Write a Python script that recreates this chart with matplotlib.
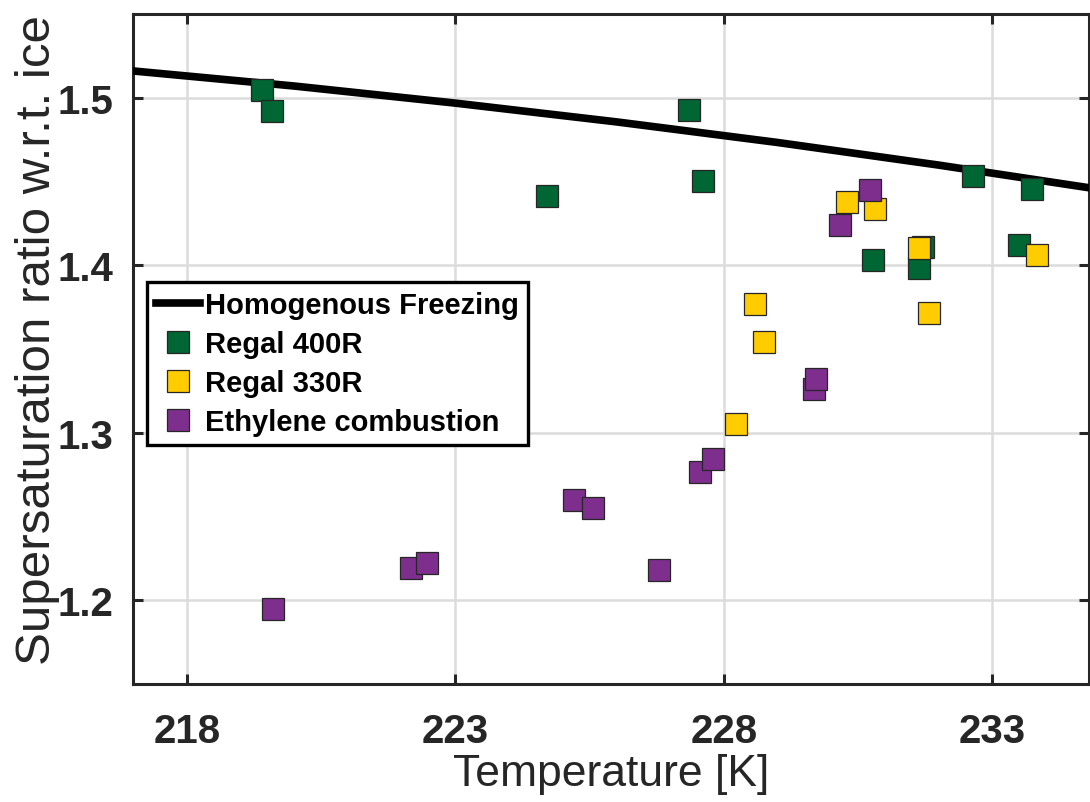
import matplotlib
matplotlib.use("Agg")
import matplotlib.pyplot as plt

# Homogeneous freezing line
hom_T = [217, 220, 223, 226, 229, 232, 235]
hom_S = [1.516, 1.5070, 1.4968, 1.4856, 1.4733, 1.4598, 1.4453]

# Regal 400R
r400_T = [219.41, 219.58, 224.70, 227.36, 227.61, 230.78, 231.70, 231.63, 232.64, 233.49, 233.73]
r400_S = [1.5048, 1.4918, 1.4416, 1.4925, 1.4505, 1.4034, 1.4107, 1.3983, 1.4530, 1.4123, 1.4453]

# Regal 330R
r330_T = [228.23, 228.58, 228.74, 230.30, 230.81, 231.64, 231.82, 233.84]
r330_S = [1.3055, 1.3769, 1.3542, 1.4376, 1.4337, 1.4103, 1.3715, 1.4061]

# Ethylene combustion
eth_T = [219.61, 222.18, 222.47, 225.22, 225.57, 226.79, 227.55, 227.79, 229.68, 229.71, 230.16, 230.73]
eth_S = [1.1946, 1.2194, 1.2225, 1.2597, 1.2552, 1.2179, 1.2764, 1.2845, 1.3264, 1.3320, 1.4243, 1.4449]

x_ticks = [218, 223, 228, 233]
y_ticks = [1.2, 1.3, 1.4, 1.5]

plt.rcParams['font.family'] = ['Liberation Sans', 'DejaVu Sans']

fig = plt.figure(figsize=(10.9, 8.03), dpi=100)
ax = fig.add_axes([133/1090, 1 - 685/803, (1089 - 133)/1090, (685 - 15)/803])

dark = '#262626'
ms = 15.5
mew = 0.9

ax.plot(hom_T, hom_S, color='black', lw=5.5, label='Homogenous Freezing', zorder=3)
ax.plot(r400_T, r400_S, ls='none', marker='s', ms=ms, mfc='#006633', mec=dark, mew=mew,
        label='Regal 400R', zorder=4)
ax.plot(r330_T, r330_S, ls='none', marker='s', ms=ms, mfc='#FFCC00', mec=dark, mew=mew,
        label='Regal 330R', zorder=5)
ax.plot(eth_T, eth_S, ls='none', marker='s', ms=ms, mfc='#7E2F8E', mec=dark, mew=mew,
        label='Ethylene combustion', zorder=6)

ax.set_xlim(217, 234.8)
ax.set_ylim(1.15, 1.55)
ax.set_xticks(x_ticks)
ax.set_yticks(y_ticks)
ax.set_xticklabels([str(t) for t in x_ticks])
ax.set_yticklabels([f"{t:.1f}" for t in y_ticks])

ax.grid(True, color='#dcdcdc', lw=1.8, zorder=0)
ax.set_axisbelow(True)

for s in ax.spines.values():
    s.set_color(dark)
    s.set_linewidth(2.2)

ax.tick_params(axis='both', which='both', direction='in', length=7, width=2.2,
               color=dark, top=True, right=True, labelcolor=dark, labelsize=29)
ax.tick_params(axis='x', pad=20)
ax.tick_params(axis='y', pad=14)
for lab in ax.get_xticklabels() + ax.get_yticklabels():
    lab.set_fontweight('bold')

ax.set_xlabel('Temperature [K]', fontsize=32, color=dark, labelpad=2)
ax.set_ylabel('Supersaturation ratio w.r.t. ice', fontsize=35.5, color=dark, labelpad=-2)
ax.yaxis.label.set_y(0.515)

leg = ax.legend(loc='upper left', bbox_to_anchor=((147 - 133)/(1089 - 133), 1 - (283 - 15)/670),
                borderaxespad=0, fancybox=False, framealpha=1, edgecolor='black',
                prop={'weight': 'bold', 'size': 21}, handlelength=1.5, handletextpad=0.2,
                labelspacing=0.38, borderpad=0.3, markerscale=1.0)
leg.get_frame().set_linewidth(2.4)
leg.set_zorder(10)

fig.savefig('out.png', dpi=100)
